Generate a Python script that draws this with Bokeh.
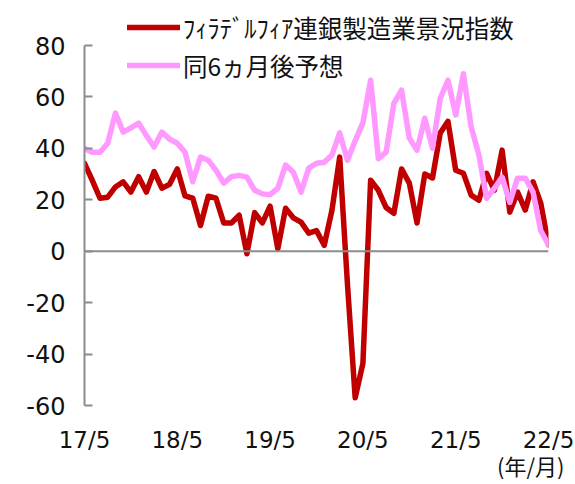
import numpy as np
from bokeh.plotting import figure
from bokeh.models import Range1d, FixedTicker, Span, Legend, LegendItem, LinearAxis
from bokeh.embed import file_html
from bokeh.resources import INLINE

# Monthly data 2017/5 .. 2022/5
philly_index = [34.2, 27.6, 20.6, 21, 25, 27, 23, 29, 23, 31, 24.5, 26, 32,
                21.5, 20.6, 10, 21.4, 20.6, 11, 11, 14, -1, 15, 11, 17.5,
                1, 16.7, 13, 11.3, 7, 8, 2.3, 16, 36.6, -12.7, -57, -43.6,
                27.6, 23.7, 17, 14.7, 32, 26.5, 11, 30, 28.5, 46, 50.5, 31.5,
                30.3, 21.8, 19.8, 30.3, 23.7, 39.3, 15.2, 23, 16, 27, 18.7, 2.5]
future_6m = [40, 38.5, 38.5, 42, 53.7, 46.3, 48, 49.8, 45, 40.5, 46.3, 43.6, 42,
             38.5, 27, 36.6, 35.4, 31.5, 26.5, 29, 29.5, 28.8, 23.7, 22.3, 22,
             24.5, 33.5, 30.7, 23, 32.3, 34.2, 34.6, 37.4, 46, 35.4, 43, 50,
             66.5, 36, 38.5, 57.5, 62.6, 44, 39.3, 51.7, 40, 59.5, 66.5, 53,
             69, 48.3, 37.4, 20.6, 24.5, 28.8, 19, 28.4, 28.4, 23, 8, 2.5]
x_tick_pos = [0, 12, 24, 36, 48, 60]
x_tick_labels = ["17/5", "18/5", "19/5", "20/5", "21/5", "22/5"]
y_ticks = [-60, -40, -20, 0, 20, 40, 60, 80]
y_tick_labels = ["-60", "-40", "-20", "0", "20", "40", "60", "80"]
series_names = ["ﾌｨﾗﾃﾞﾙﾌｨｱ連銀製造業景況指数", "同6ヵ月後予想"]
unit_text = "(年/月)"
unit_pos = 57.7

x = np.arange(len(philly_index))

p = figure(width=575, height=484, x_range=Range1d(0, 60), y_range=Range1d(-60, 97.5),
           output_backend="svg", toolbar_location=None,
           min_border_left=84, min_border_right=27, min_border_top=0, min_border_bottom=79)
p.outline_line_color = None
p.xgrid.visible = False
p.ygrid.visible = False

zero = Span(location=0, dimension="width", line_color="#8c8c8c", line_width=2)
p.add_layout(zero)

r1 = p.line(x, philly_index, line_color="#C00000", line_width=5.5, line_join="round", line_cap="round")
r2 = p.line(x, future_6m, line_color="#FF99FF", line_width=5.5, line_join="round", line_cap="round")

# y axis
ya = p.yaxis[0]
ya.ticker = FixedTicker(ticks=y_ticks)
ya.bounds = (-60, 80)
ya.major_label_overrides = {t: l for t, l in zip(y_ticks, y_tick_labels)}
ya.axis_line_color = "#8c8c8c"
ya.axis_line_width = 2
ya.major_tick_line_color = "#8c8c8c"
ya.major_tick_line_width = 2
ya.major_tick_in = 8
ya.major_tick_out = 0
ya.minor_tick_line_color = None
ya.major_label_text_font = "DejaVu Sans"
ya.major_label_text_font_size = "24px"
ya.major_label_text_color = "#111111"
ya.major_label_standoff = 19

# x axis
xa = p.xaxis[0]
xa.ticker = FixedTicker(ticks=x_tick_pos)
xa.major_label_overrides = {t: l for t, l in zip(x_tick_pos, x_tick_labels)}
xa.axis_line_color = None
xa.major_tick_line_color = None
xa.minor_tick_line_color = None
xa.major_label_text_font = "DejaVu Sans"
xa.major_label_text_font_size = "23px"
xa.major_label_text_color = "#111111"
xa.major_label_standoff = 15

# unit label as a second bottom axis
ua = LinearAxis(ticker=FixedTicker(ticks=[unit_pos]),
                major_label_overrides={unit_pos: unit_text})
ua.axis_line_color = None
ua.major_tick_line_color = None
ua.minor_tick_line_color = None
ua.major_label_text_font = "Noto Sans CJK JP"
ua.major_label_text_font_size = "22px"
ua.major_label_text_color = "#111111"
ua.major_label_standoff = -13
p.add_layout(ua, "below")

legend = Legend(items=[LegendItem(label=series_names[0], renderers=[r1]),
                       LegendItem(label=series_names[1], renderers=[r2])],
                location=(43, 321))
legend.label_text_font = "Noto Sans CJK JP"
legend.label_text_font_size = "24.5px"
legend.label_text_color = "#111111"
legend.glyph_width = 53
legend.glyph_height = 38
legend.label_height = 38
legend.label_standoff = 3
legend.spacing = 0
legend.padding = 0
legend.margin = 0
legend.border_line_alpha = 0
legend.background_fill_alpha = 0
p.add_layout(legend)

open("out.html", "w").write(file_html(p, INLINE))
